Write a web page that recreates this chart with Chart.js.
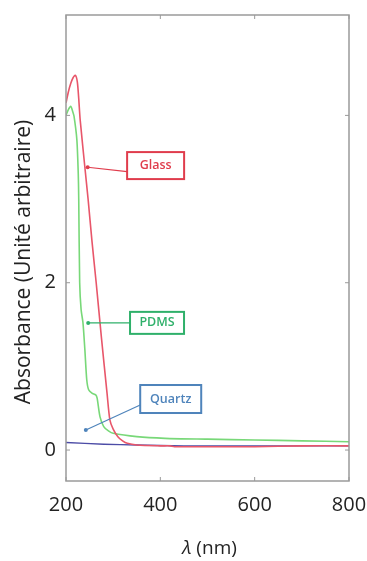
<!DOCTYPE html>
<html>
<head>
<meta charset="utf-8">
<script src="https://cdn.jsdelivr.net/npm/chart.js@4.4.1/dist/chart.umd.min.js"></script>
<style>
  html, body { margin: 0; padding: 0; background: #ffffff; }
  #wrap { width: 367px; height: 561px; }
</style>
</head>
<body>
<div id="wrap"><canvas id="uvChart" width="367" height="561"></canvas></div>
<script>
// spectres d'absorbance
const glassNm  = [200, 205, 210, 215, 220, 224, 227, 230, 240, 247, 255, 264, 275, 287, 293, 300, 310, 320, 330, 350, 400, 420, 430, 600, 700, 800];
const glassAbs = [4.15, 4.28, 4.38, 4.45, 4.48, 4.4, 4.2, 3.95, 3.38, 2.99, 2.5, 2.0, 1.35, 0.68, 0.36, 0.25, 0.16, 0.11, 0.08, 0.06, 0.05, 0.05, 0.04, 0.04, 0.05, 0.05];

const pdmsNm  = [200, 205, 210, 214, 217, 223, 226, 227, 229, 232, 236, 240, 244, 248, 255, 263, 266, 272, 280, 290, 300, 350, 410, 500, 600, 700, 800];
const pdmsAbs = [4.0, 4.07, 4.11, 4.05, 3.99, 3.71, 3.3, 3.0, 2.0, 1.68, 1.52, 1.2, 0.84, 0.72, 0.68, 0.66, 0.62, 0.4, 0.28, 0.23, 0.2, 0.16, 0.14, 0.13, 0.12, 0.11, 0.1];

const quartzNm  = [200, 280, 350, 450, 800];
const quartzAbs = [0.09, 0.07, 0.06, 0.05, 0.05];

const seriesNames = ["Glass", "PDMS", "Quartz"];
const xTicks = [200, 400, 600, 800];
const yTicks = [0, 2, 4];
const yTitle = "Absorbance (Unité arbitraire)";

// étiquettes : position de la boîte et pointe de flèche (unités des données)
const labelBoxes = [
  { text: "Glass",  cx: 390, cy: 3.4,  tipX: 246, tipY: 3.38, w: 57, h: 27, color: "#e03c4c" },
  { text: "PDMS",   cx: 393, cy: 1.52, tipX: 247, tipY: 1.52, w: 54, h: 22, color: "#2fb06a" },
  { text: "Quartz", cx: 422, cy: 0.61, tipX: 242, tipY: 0.24, w: 61, h: 28, color: "#4f84bb" }
];

const toXY = (xs, ys) => xs.map((x, i) => ({ x: x, y: ys[i] }));

// cadre, petites graduations intérieures et titres des axes
const framePlugin = {
  id: 'frame',
  afterDraw(chart) {
    const { ctx, chartArea: a, scales } = chart;
    ctx.save();
    ctx.strokeStyle = '#9a9a9a';
    ctx.lineWidth = 1.5;
    ctx.strokeRect(a.left, a.top, a.right - a.left, a.bottom - a.top);
    ctx.lineWidth = 1;
    ctx.beginPath();
    xTicks.forEach(v => {
      const px = scales.x.getPixelForValue(v);
      ctx.moveTo(px, a.top); ctx.lineTo(px, a.top + 4);
      ctx.moveTo(px, a.bottom); ctx.lineTo(px, a.bottom - 4);
    });
    yTicks.forEach(v => {
      const py = scales.y.getPixelForValue(v);
      ctx.moveTo(a.left, py); ctx.lineTo(a.left + 4, py);
      ctx.moveTo(a.right, py); ctx.lineTo(a.right - 4, py);
    });
    ctx.stroke();

    ctx.fillStyle = '#222';
    ctx.textBaseline = 'middle';

    // titre y, un peu plus bas que le centre du cadre
    ctx.save();
    ctx.translate(24, 262);
    ctx.rotate(-Math.PI / 2);
    ctx.textAlign = 'center';
    ctx.font = '21px "Open Sans"';
    ctx.fillText(yTitle, 0, 0);
    ctx.restore();

    // titre x avec lambda en italique
    const cx = (a.left + a.right) / 2 + 2;
    const y = 549;
    ctx.font = 'italic 19px "Open Sans"';
    const lam = 'λ';
    const rest = ' (nm)';
    const w1 = ctx.measureText(lam).width;
    ctx.font = '19px "Open Sans"';
    const w2 = ctx.measureText(rest).width;
    const x0 = cx - (w1 + w2) / 2;
    ctx.textAlign = 'left';
    ctx.font = 'italic 19px "Open Sans"';
    ctx.fillText(lam, x0, y);
    ctx.font = '19px "Open Sans"';
    ctx.fillText(rest, x0 + w1, y);
    ctx.restore();
  }
};

// boîtes d'étiquettes avec flèches
const labelPlugin = {
  id: 'labels',
  afterDatasetsDraw(chart) {
    const { ctx, scales } = chart;
    ctx.save();
    labelBoxes.forEach(b => {
      const cx = scales.x.getPixelForValue(b.cx);
      const cy = scales.y.getPixelForValue(b.cy);
      const tx = scales.x.getPixelForValue(b.tipX);
      const ty = scales.y.getPixelForValue(b.tipY);
      const left = cx - b.w / 2;
      ctx.strokeStyle = b.color;
      ctx.fillStyle = b.color;
      ctx.lineWidth = 1.2;
      ctx.beginPath();
      ctx.moveTo(left, b.tipY === b.cy ? cy : cy + 6);
      ctx.lineTo(tx, ty);
      ctx.stroke();
      ctx.beginPath();
      ctx.arc(tx, ty, 2, 0, Math.PI * 2);
      ctx.fill();
      ctx.fillStyle = '#ffffff';
      ctx.fillRect(left, cy - b.h / 2, b.w, b.h);
      ctx.lineWidth = 2;
      ctx.strokeRect(left, cy - b.h / 2, b.w, b.h);
      ctx.fillStyle = b.color;
      ctx.font = '600 12.5px "Open Sans"';
      ctx.textAlign = 'center';
      ctx.textBaseline = 'middle';
      ctx.fillText(b.text, cx, cy);
    });
    ctx.restore();
  }
};

const ctx = document.getElementById('uvChart').getContext('2d');
new Chart(ctx, {
  type: 'line',
  data: {
    datasets: [
      { label: seriesNames[0], data: toXY(glassNm, glassAbs), borderColor: '#e8566a', borderWidth: 1.6, pointRadius: 0, tension: 0.25, fill: false },
      { label: seriesNames[1], data: toXY(pdmsNm, pdmsAbs), borderColor: '#78d878', borderWidth: 1.6, pointRadius: 0, tension: 0.25, fill: false },
      { label: seriesNames[2], data: toXY(quartzNm, quartzAbs), borderColor: '#4c4ca6', borderWidth: 1.4, pointRadius: 0, tension: 0.2, fill: false }
    ]
  },
  options: {
    responsive: false,
    animation: false,
    layout: { padding: { left: 0, right: 18, top: 15, bottom: 0 } },
    plugins: {
      legend: { display: false },
      tooltip: { enabled: false }
    },
    scales: {
      x: {
        type: 'linear',
        min: 200,
        max: 800,
        afterBuildTicks: s => { s.ticks = xTicks.map(v => ({ value: v })); },
        afterFit: s => { s.height = 80; s.paddingLeft = 0; s.paddingRight = 0; },
        grid: { display: false, drawTicks: false },
        border: { display: false },
        ticks: { color: '#222', font: { family: 'Open Sans', size: 20 }, padding: 12, maxRotation: 0 }
      },
      y: {
        min: -0.37,
        max: 5.2,
        afterBuildTicks: s => { s.ticks = yTicks.map(v => ({ value: v })); },
        afterFit: s => { s.width = 66; s.paddingTop = 0; s.paddingBottom = 0; },
        grid: { display: false, drawTicks: false },
        border: { display: false },
        ticks: { color: '#222', font: { family: 'Open Sans', size: 20 }, padding: 10 }
      }
    }
  },
  plugins: [framePlugin, labelPlugin]
});
</script>
</body>
</html>
